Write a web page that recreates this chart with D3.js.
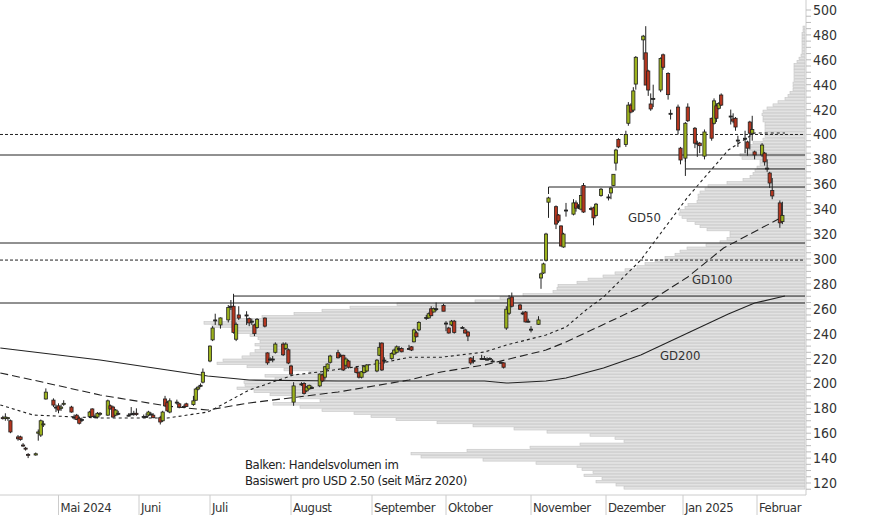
<!DOCTYPE html>
<html>
<head>
<meta charset="utf-8">
<script src="https://cdn.jsdelivr.net/npm/d3@7"></script>
<style>
  body { margin: 0; background: #fff; }
  text { font-family: "Liberation Sans Narrow", "Arial Narrow", "DejaVu Sans Condensed", sans-serif; }
</style>
</head>
<body>
<svg id="chart" width="874" height="515"></svg>
<script>
"use strict";
// first trading day shown, US holidays skipped when building the day list
const firstDay = "2024-04-09";
const holidays = ["2024-05-27", "2024-06-19", "2024-07-04", "2024-09-02", "2024-11-28",
    "2024-12-25", "2025-01-01", "2025-01-09", "2025-01-20"];

// daily candles [open, high, low, close]
const ohlc = [
    [172.5,174,171,172],[172,176,170,173],[172,173,170,172.5],[170,171,160,161],[157,158.5,154,155.5],
    [157,158,154,155],[150.5,152,149,150],[148,149,146,147.5],[143,144,140,142.5],[142.5,144.5,142,143.5],
    [160,163,154,161],[158.5,171,157,170],[167,170,165,167.5],[187.5,196,187,193],[186.6,188,181,182.6],
    [181,183,177,181],[182,184,176,178.6],[180,183,178,181],[183.5,186.5,182,184],[181,182,176.5,177],
    [173,175,171,173],[174.5,175.5,170.5,171],[172,173,167,168],[171,172.5,169,171],[173.5,178,172.5,177],
    [179.5,180,173,173.5],[173.5,175,172,173.5],[173,177,172,176],[175.5,177,174,176],[174.5,187,174,186],
    [182,183,179,179.5],[181,182,172.5,173],[174.5,179.5,173.5,178.6],[176,178,174.5,176],[174.5,176,173.5,174.5],
    [175.6,181,174.5,175.6],[176,178,174,176],[176,180,174,175],[173.5,175,172.5,173.5],[173.5,176,172.5,173.5],
    [174.5,178,173.5,177],[175.5,177,174.5,175.5],[174.5,176,172,172.5],[172.5,174,167,169],[170,178,169,177],
    [187.5,190,181,182],[184.5,186,177,178],[177,188,176,186],[185,187,183,185],[183.6,184.5,180,181],
    [181.5,183,180.5,181.5],[183.6,184.5,181,181.5],[183,190,182,186],[186.5,196.5,186,195.5],[195.5,198,194.5,197],
    [198.5,200,197,198.5],[201,212,200,209],[218,230.5,217,230],[235,246,234,244.5],
    [251,256,247,251],[247,253,244,252.6],[251,263,249,261],[262,267,259,262],[262,272,240,241],
    [235.5,249,234,247.5],[255,262,251,252.5],[255,258,247,255],[252,253,246,248.6],[250,252,247,250],
    [247,248,238,240],[245,252.5,244,251.5],[252.5,253,245,246],[224.5,225,215,216.5],[219.6,221,218,219.6],
    [219.6,222,217,219.6],[225,233,224,231.6],[231.6,233,222,223],[228,233,227,231.6],[227,228,215.5,216.4],
    [214,215,206,207.5],[185,201,182,198],[199.6,201,198,199.6],[200,201,191,192],[194,198,193,197],
    [195.6,199,195,198.5],[196.8,198,195.5,196.8],[198,208,197,207.5],[206.8,208,201,202],[205,214,203,213.4],
    [211.6,216,211,215.6],[217,223,216,222],[224.7,227,220,220.6],[222.6,224,221,222.6],[222.6,223,210,210.8],
    [214.6,221,213,219.6],[218,219,212,213],[212.5,214,208,208.8],[208.5,209.5,204,205],[205,210,204,209.4],
    [208.8,214,208,213.4],[210,215.5,209,214.8],[210,219.5,209,218.7],[222.6,233,222,229],[232.4,233,210,210.8],
    [218.7,221,216,218.7],[220,225,219,224],[223.6,228,223,226.8],[225,230.5,224,229.4],[228,230,226,228],
    [228,229,225,225.4],[228,231,227,228],[229.4,230,226,226.8],[233.4,244,233,243],[240.6,242,237,237.5],
    [243,250,242,249],[253,255,251,253],[252.6,257,252,256],[260,262,254,254.4],[257.4,261,257,260],
    [260,265,258,260],[262.6,264,258,258],
    [248.5,250,242,248.5],[244.5,245.5,240,240.5],[247,251,246,250],[250,251,240,241],[245,246,244,245],
    [243,244,240,240.5],[241.3,242,234,238],[220.4,221,215,216.4],[218.5,222,216,218.5],[220,223,219,220],
    [220,222,219,220],[219.5,221,218.5,219.5],[220,221,219,220],[218,219.5,217,218],[217,218,216,217],
    [216.5,217,212,213],[244.5,262,243,259.6],[256.4,271,255,268],[269.4,273,261,262],[263,264,259,259.6],
    [256.6,258,255,256.6],[257.4,258,249,249.4],[250,252,249,250],[243.6,246,241,243.6],[247.5,254,247,251],
    [284.7,289,276,288],[288.7,297,288,296],[299,321,298,320],[345.6,350,333,349],[342,343,324,328],
    [335.3,336,329,330.5],[326.5,327,310,310.4],[309.6,321,309,320],[339.3,345,334,339.3],[336,348,335,345],
    [345,347,338,340.8],[342.5,344,340,342.5],[340,357,339,351],[359,361,337,337.7],[340.6,342,339,340.6],
    [341,342,327,333],[335,345,334,344],[351,357,350,356],[349.8,352,347,349.8],[353,358,348,357],
    [359,368,358.5,368],[377,388.5,371,387.5],
    [396,397,389,390],[392,403,390,400],[409,426,407,423.6],[423.6,425,417,418],[419.6,438,418,435],
    [440.5,463,436,462],[476,480,460,479],[465.6,487,440,439.7],[451,452,431,435.7],[424.5,433,419,420.5],
    [429,440,422,429],[435.7,462,434,461],[464,465,452,454],[449,450,428,432],[417,420,412,417],
    [422,424,400,403.6],[389,390,376,379.5],[381,410,378,409],[422,425,410,411],[405,406,389,393],
    [393,395,382,393],[393,394,385,391],[382.6,404,380,402],[413,413.5,395,397],[409,429,408,427],
    [423,425,410,413],[421,426,420,425],[431.7,433,423,423.6],[414.8,420,408,414.8],[412.5,417,409,410.7],
    [413,414,403,406],[395.5,399,390,395.5],[397,403,385,397],[394,395,383,389],[410,411,388,401],
    [401,415,395,404],[386,387,380,383.6],[383.6,393,382,391.5],[385,386,375,378],[373,380,370,373],
    [369,370,357,361],[355,365,348,350.6],[345,347,325,329],[330,346,328,335]
];

// moving averages: [date, value]
const gd50 = [["2024-04-08",182.7],["2024-04-21",174.6],["2024-05-17",172.2],["2024-06-13",172.2],
    ["2024-06-30",177],["2024-07-03",180],["2024-07-16",194.7],["2024-08-02",206.8],["2024-08-13",209.5],
    ["2024-09-05",216.4],["2024-09-16",221],["2024-09-29",221],["2024-10-15",225.2],["2024-10-23",230.8],
    ["2024-11-07",238.9],["2024-11-15",245.3],["2024-11-23",259],["2024-11-30",269.4],["2024-12-15",299.1],
    ["2024-12-18",307.2],["2025-01-03",349.8],["2025-01-20",387.5],["2025-01-31",401.2],["2025-02-12",401.2]];
const gd100 = [["2024-04-08",208.4],["2024-04-21",202.7],["2024-05-17",190.7],["2024-06-13",181.8],
    ["2024-06-30",178.6],["2024-07-16",184.3],["2024-08-19",193.1],["2024-09-16",202.7],["2024-09-29",209.2],
    ["2024-10-15",214.8],["2024-11-07",226.8],["2024-11-15",233.3],["2024-12-15",261.4],["2025-01-03",285.5],
    ["2025-01-18",308.8],["2025-02-11",333.7]];
const gd200 = [["2024-04-08",228.4],["2024-05-17",218.8],["2024-06-13",210.8],["2024-06-30",206],
    ["2024-07-16",202.7],["2024-08-19",201.9],["2024-10-15",201.9],["2024-10-23",200.3],["2024-11-07",201.9],
    ["2024-11-15",204.3],["2024-11-30",212.4],["2024-12-15",222.8],["2025-01-03",240.5],["2025-01-20",255.8],
    ["2025-01-31",264.6],["2025-02-12",270.2]];

// volume profile, one value per USD 2.50 bin starting at 115
const profileStart = 115, profileStep = 2.5;
const profile = [181,189,209,203,221,212,223,228,269,322,384,394,338,275,225,181,190,215,258,291,
    332,368,409,434,451,483,505,532,485,505,535,551,568,560,561,530,540,496,521,558,
    588,582,563,555,550,545,550,545,547,555,568,569,593,601,569,543,511,483,455,408,
    330,305,282,252,248,247,228,217,202,190,180,168,160,150,140,130,125,118,99,85,
    78,75,75,98,105,110,118,123,126,125,120,117,108,107,107,105,100,97,78,62,
    55,52,50,48,45,45,63,65,60,57,55,52,42,40,40,40,40,40,42,42,
    43,42,38,32,27,20,17,15,12,12,12,11,11,11,11,11,11,8,6,4,
    3,3,3,3,3,3,3,2,2];

// horizontal levels: [price, from date or null, style]
const levels = [[383.5,null,"solid"],[400,null,"dash"],[312.8,null,"solid"],[299.1,null,"dash"],
    [264.6,null,"solid"],[270.2,"2024-07-10","solid"],[357.8,"2024-11-08","solid"],[372.3,"2025-01-02","solid"]];

const months = [["2024-05-01","Mai 2024"],["2024-06-01","Juni"],["2024-07-01","Juli"],["2024-08-01","August"],
    ["2024-09-01","September"],["2024-10-01","Oktober"],["2024-11-01","November"],["2024-12-01","Dezember"],
    ["2025-01-01","Jan 2025"],["2025-02-01","Februar"]];
const yTicks = [120,140,160,180,200,220,240,260,280,300,320,340,360,380,400,420,440,460,480,500];

const parse = d3.timeParse("%Y-%m-%d");
const fmt = d3.timeFormat("%Y-%m-%d");
const hol = new Set(holidays);
const days = [];
for (let d = parse(firstDay); days.length < ohlc.length; d = d3.timeDay.offset(d, 1)) {
    if (d.getDay() > 0 && d.getDay() < 6 && !hol.has(fmt(d))) days.push(d);
}

const svg = d3.select("#chart");
const right = 805, axisY = 495;
// piecewise time scale: month starts sit where the chart puts them
const x = d3.scaleTime()
    .domain(["2024-04-08", ...months.map(m => m[0]), "2025-02-14"].map(parse))
    .range([0.3, 58.5, 139, 210, 291, 372, 446, 531, 606, 683, 757, 790]);
const y = d3.scaleLinear().domain([120, 500]).range([483, 10]);
const vol = d3.scaleLinear().domain([0, 600]).range([0, 600]);

// volume profile
const binH = y(0) - y(profileStep);
svg.append("g").selectAll("rect").data(profile).enter().append("rect")
    .attr("x", d => right - vol(d))
    .attr("y", (d, i) => y(profileStart + (i + 1) * profileStep) + 0.5)
    .attr("width", d => vol(d))
    .attr("height", binH - 0.6)
    .attr("fill", "#e2e2e2")
    .attr("stroke", "#c4c4c4")
    .attr("stroke-width", 0.6);

// levels
levels.forEach(([p, from, style]) => {
    const x0 = from ? x(parse(from)) : 0;
    svg.append("line").attr("x1", x0).attr("x2", right).attr("y1", y(p)).attr("y2", y(p))
        .attr("stroke", "#222").attr("stroke-width", 1)
        .attr("stroke-dasharray", style === "dash" ? "3,2" : null);
    if (from) {
        svg.append("line").attr("x1", x0).attr("x2", x0).attr("y1", y(p)).attr("y2", y(p) + 7)
            .attr("stroke", "#222");
    }
});
svg.append("line").attr("x1", x(parse("2025-01-02"))).attr("x2", x(parse("2025-01-02")))
    .attr("y1", y(383.5)).attr("y2", y(372.3)).attr("stroke", "#222");

// moving averages
const line = d3.line().x(d => x(parse(d[0]))).y(d => y(d[1]));
[[gd50, "3,3"], [gd100, "8,4"], [gd200, null]].forEach(([data, dash]) => {
    svg.append("path").attr("d", line(data)).attr("fill", "none")
        .attr("stroke", "#222").attr("stroke-width", 1.1).attr("stroke-dasharray", dash);
});

// candles
const c = svg.append("g").selectAll("g").data(ohlc).enter().append("g");
c.append("line")
    .attr("x1", (d, i) => x(days[i])).attr("x2", (d, i) => x(days[i]))
    .attr("y1", d => y(d[1])).attr("y2", d => y(d[2]))
    .attr("stroke", "#222").attr("stroke-width", 1);
c.append("rect")
    .attr("x", (d, i) => x(days[i]) - 1.6)
    .attr("y", d => y(Math.max(d[0], d[3])))
    .attr("width", 3.2)
    .attr("height", d => Math.max(1, Math.abs(y(d[0]) - y(d[3]))))
    .attr("fill", d => d[3] > d[0] ? "#9cb21c" : d[3] < d[0] ? "#b5361f" : "#333")
    .attr("stroke", "#222").attr("stroke-width", 0.8);

// labels
const lab = [["GD50", 628, 222], ["GD100", 692, 284], ["GD200", 660, 360]];
svg.selectAll(".ma").data(lab).enter().append("text")
    .attr("x", d => d[1]).attr("y", d => d[2]).text(d => d[0])
    .attr("font-size", 13).attr("fill", "#333");
svg.append("text").attr("x", 245).attr("y", 469).attr("font-size", 13).attr("fill", "#222")
    .attr("letter-spacing", -0.4).text("Balken: Handelsvolumen im");
svg.append("text").attr("x", 245).attr("y", 485).attr("font-size", 13).attr("fill", "#222")
    .attr("letter-spacing", -0.4).text("Basiswert pro USD 2.50 (seit März 2020)");

// y axis
svg.append("line").attr("x1", right + 1).attr("x2", right + 1).attr("y1", 0).attr("y2", axisY)
    .attr("stroke", "#ccc");
svg.append("g").selectAll("line").data(d3.range(115, 505, 5)).enter().append("line")
    .attr("x1", right + 1).attr("x2", right + 6).attr("y1", d => y(d)).attr("y2", d => y(d))
    .attr("stroke", "#bbb");
svg.append("g").selectAll("text").data(yTicks).enter().append("text")
    .attr("x", right + 8).attr("y", d => y(d) + 5).text(d => d)
    .attr("font-size", 14).attr("fill", "#333");

// x axis
svg.append("line").attr("x1", 0).attr("x2", right + 1).attr("y1", axisY).attr("y2", axisY)
    .attr("stroke", "#ccc");
svg.append("g").selectAll("line").data(months).enter().append("line")
    .attr("x1", d => x(parse(d[0]))).attr("x2", d => x(parse(d[0])))
    .attr("y1", axisY).attr("y2", 515).attr("stroke", "#ccc");
svg.append("g").selectAll("text").data(months).enter().append("text")
    .attr("x", d => x(parse(d[0])) + 2).attr("y", 512).text(d => d[1])
    .attr("font-size", 13).attr("fill", "#333").attr("letter-spacing", -0.4);
</script>
</body>
</html>
